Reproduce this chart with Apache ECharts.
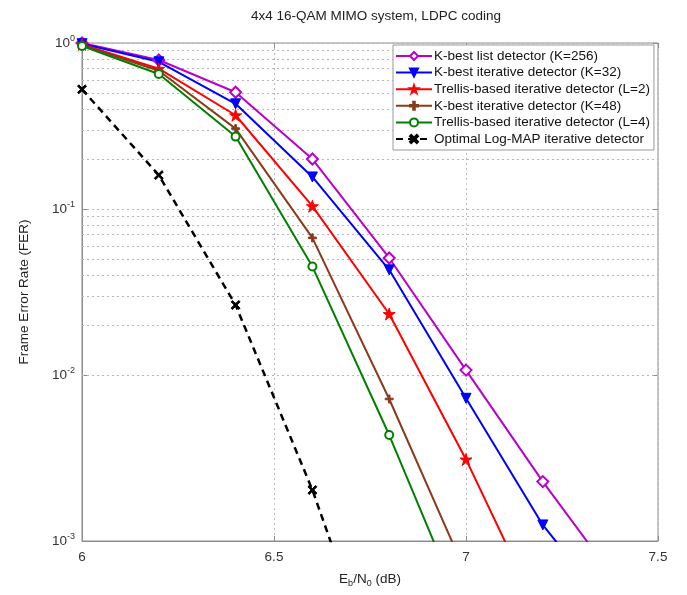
<!DOCTYPE html>
<html>
<head>
<meta charset="utf-8">
<script src="https://cdn.jsdelivr.net/npm/echarts@6/dist/echarts.min.js"></script>
<style>html,body{margin:0;padding:0;background:#fff}#c{width:687px;height:595px}</style>
</head>
<body>
<div id="c"></div>
<script>
// ---- data ----
var xVals = [6.0, 6.2, 6.4, 6.6, 6.8, 7.0, 7.2, 7.4];
var kbestList256 = [1.0, 0.79, 0.505, 0.20, 0.0507, 0.0107, 0.00228, 0.00054];
var kbestIter32 = [0.99, 0.77, 0.43, 0.156, 0.043, 0.00724, 0.00125, 0.00033];
var trellisL2 = [0.98, 0.70, 0.367, 0.104, 0.0233, 0.0031, 0.00033];
var kbestIter48 = [0.97, 0.68, 0.305, 0.067, 0.00717, 0.00064];
var trellisL4 = [0.96, 0.65, 0.273, 0.045, 0.00435, 0.00034];
var optimalLogMap = [0.526, 0.16, 0.0264, 0.00203, 0.0001];
var seriesNames = [
  'K-best list detector (K=256)',
  'K-best iterative detector (K=32)',
  'Trellis-based iterative detector (L=2)',
  'K-best iterative detector (K=48)',
  'Trellis-based iterative detector (L=4)',
  'Optimal Log-MAP iterative detector'
];
var xTicks = [6, 6.5, 7, 7.5];
var minorGrid = [0.002,0.003,0.004,0.005,0.006,0.007,0.008,0.009,
                 0.02,0.03,0.04,0.05,0.06,0.07,0.08,0.09,
                 0.2,0.3,0.4,0.5,0.6,0.7,0.8,0.9];
var titleText = '4x4 16-QAM MIMO system, LDPC coding';

// ---- helpers ----
function pairs(ys){ var out=[]; for(var i=0;i<ys.length;i++){ out.push([xVals[i], ys[i]]); } return out; }
var starPath = 'path://M50,0 L61.8,35.1 L98.9,35.1 L68.9,56.7 L80.3,91.9 L50,70.2 L19.7,91.9 L31.1,56.7 L1.1,35.1 L38.2,35.1 Z';
var plusPath = 'path://M4,0 H6 V4 H10 V6 H6 V10 H4 V6 H0 V4 H4 Z';
var xPath = 'path://M1.5,0 L5,3.5 L8.5,0 L10,1.5 L6.5,5 L10,8.5 L8.5,10 L5,6.5 L1.5,10 L0,8.5 L3.5,5 L0,1.5 Z';

var FONT = 'Liberation Sans, Arial, sans-serif';
var FS = 13.5;
var gridColor = '#b8b8b8';
var axisColor = '#8c8c8c';

function mkSeries(name, ys, color, symbol, size, opts){
  var s = {
    name: name, type: 'line', data: pairs(ys), clip: true,
    symbol: symbol, symbolSize: size, showSymbol: true,
    lineStyle: { color: color, width: 2 },
    itemStyle: { color: color, borderColor: color, borderWidth: 1 },
    z: 5
  };
  if (opts) { for (var k in opts) s[k] = opts[k]; }
  return s;
}

var series = [
  {
    name: '_grid', type: 'line', data: [], silent: true,
    markLine: {
      silent: true, symbol: 'none', animation: false,
      label: { show: false },
      lineStyle: { color: gridColor, type: [2, 3], width: 1 },
      data: minorGrid.map(function(v){ return { yAxis: v }; })
    },
    z: 1
  },
  mkSeries(seriesNames[0], kbestList256, '#bb00cc', 'diamond', 11,
    { itemStyle: { color: '#ffffff', borderColor: '#bb00cc', borderWidth: 2 } }),
  mkSeries(seriesNames[1], kbestIter32, '#0000ff', 'triangle', 10, { symbolRotate: 180 }),
  mkSeries(seriesNames[2], trellisL2, '#ff0000', starPath, 12),
  mkSeries(seriesNames[3], kbestIter48, '#8b3a1a', plusPath, 8),
  mkSeries(seriesNames[4], trellisL4, '#008000', 'circle', 8,
    { itemStyle: { color: '#ffffff', borderColor: '#008000', borderWidth: 2 } }),
  mkSeries(seriesNames[5], optimalLogMap, '#000000', xPath, 9,
    { lineStyle: { color: '#000000', width: 2.5, type: [7, 5] } })
];

function supLabel(v){
  var e = Math.round(Math.log(v) / Math.LN10);
  return '{b|10}{s|' + e + '}';
}

var chart = echarts.init(document.getElementById('c'), null, { renderer: 'canvas' });
chart.setOption({
  animation: false,
  backgroundColor: '#ffffff',
  textStyle: { fontFamily: FONT },
  title: {
    text: titleText, left: 371, top: 4, textAlign: 'center',
    textStyle: { fontFamily: FONT, fontSize: FS, fontWeight: 'normal', color: '#222' }
  },
  grid: { left: 82, right: 29, top: 43, bottom: 54, show: true, borderColor: axisColor, borderWidth: 1 },
  legend: {
    data: seriesNames, orient: 'vertical', left: 393, top: 45,
    itemWidth: 36, itemHeight: 10, itemGap: 2.6,
    padding: [4, 4, 4, 2],
    backgroundColor: '#ffffff', borderColor: '#999', borderWidth: 1,
    textStyle: { fontFamily: FONT, fontSize: FS, color: '#111', padding: [0, 0, 0, -3] },
    z: 10
  },
  xAxis: [{
    type: 'value', min: 6, max: 7.5, interval: 0.5,
    name: '{m|E}{sub|b}{m|/N}{sub|0}{m| (dB)}', nameLocation: 'middle', nameGap: 29,
    nameTextStyle: { rich: {
      m: { fontFamily: FONT, fontSize: FS, color: '#222' },
      sub: { fontFamily: FONT, fontSize: 9, color: '#222', verticalAlign: 'bottom', padding: [9, 0, 0, 0] }
    } },
    axisLine: { lineStyle: { color: axisColor } },
    axisTick: { inside: true, length: 5, lineStyle: { color: axisColor } },
    axisLabel: { fontFamily: FONT, fontSize: FS, color: '#333', margin: 9,
      formatter: function(v){ return String(v); } },
    splitLine: { show: true, lineStyle: { color: gridColor, type: [2, 3] } }
  }, {
    type: 'value', min: 6, max: 7.5, interval: 0.5, position: 'top',
    axisLine: { show: false },
    axisTick: { inside: true, length: 5, lineStyle: { color: axisColor } },
    axisLabel: { show: false }, splitLine: { show: false }
  }],
  yAxis: [{
    type: 'log', logBase: 10, min: 0.001, max: 1,
    name: 'Frame Error Rate (FER)', nameLocation: 'middle', nameGap: 51,
    nameTextStyle: { fontFamily: FONT, fontSize: FS, color: '#222' },
    axisLine: { lineStyle: { color: axisColor } },
    axisTick: { inside: true, length: 5, lineStyle: { color: axisColor } },
    axisLabel: { margin: 7, formatter: supLabel, rich: {
      b: { fontFamily: FONT, fontSize: FS, color: '#333' },
      s: { fontFamily: FONT, fontSize: 9, color: '#333', verticalAlign: 'top', padding: [0, 0, 9, 0] }
    } },
    splitLine: { show: true, lineStyle: { color: gridColor, type: [2, 3] } }
  }, {
    type: 'log', logBase: 10, min: 0.001, max: 1, position: 'right',
    axisLine: { show: false },
    axisTick: { inside: true, length: 5, lineStyle: { color: axisColor } },
    axisLabel: { show: false }, splitLine: { show: false }
  }],
  series: series
});
</script>
</body>
</html>
